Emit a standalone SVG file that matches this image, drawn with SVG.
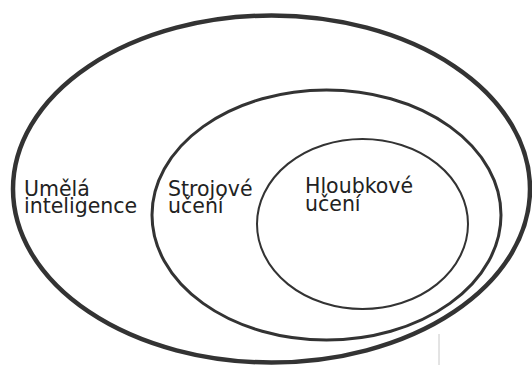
<svg xmlns="http://www.w3.org/2000/svg" width="532" height="365" viewBox="0 0 532 365">
<style>
.set{fill:none;stroke:#333}
.lbl{font-family:"DejaVu Sans",Verdana,sans-serif;font-size:20.5px;fill:#222}
</style>
<rect width="532" height="365" fill="#fff"/>
<g id="ai">
<ellipse class="set" cx="271.5" cy="189" rx="258.5" ry="173.5" stroke-width="4.5"/>
<text class="lbl" x="24" y="196">Umělá</text>
<text class="lbl" x="24" y="213">inteligence</text>
</g>
<g id="ml">
<ellipse class="set" cx="326.5" cy="215" rx="174.5" ry="125" stroke-width="3"/>
<text class="lbl" x="168" y="196">Strojové</text>
<text class="lbl" x="168" y="213">učení</text>
</g>
<g id="dl">
<ellipse class="set" cx="362.5" cy="224" rx="105.5" ry="85" stroke-width="2"/>
<text class="lbl" x="305" y="193">Hloubkové</text>
<text class="lbl" x="305" y="211">učení</text>
</g>
<g id="connectors"></g>
<line x1="439" y1="334" x2="439" y2="365" stroke="#c8c8c8" stroke-width="1"/>
</svg>
